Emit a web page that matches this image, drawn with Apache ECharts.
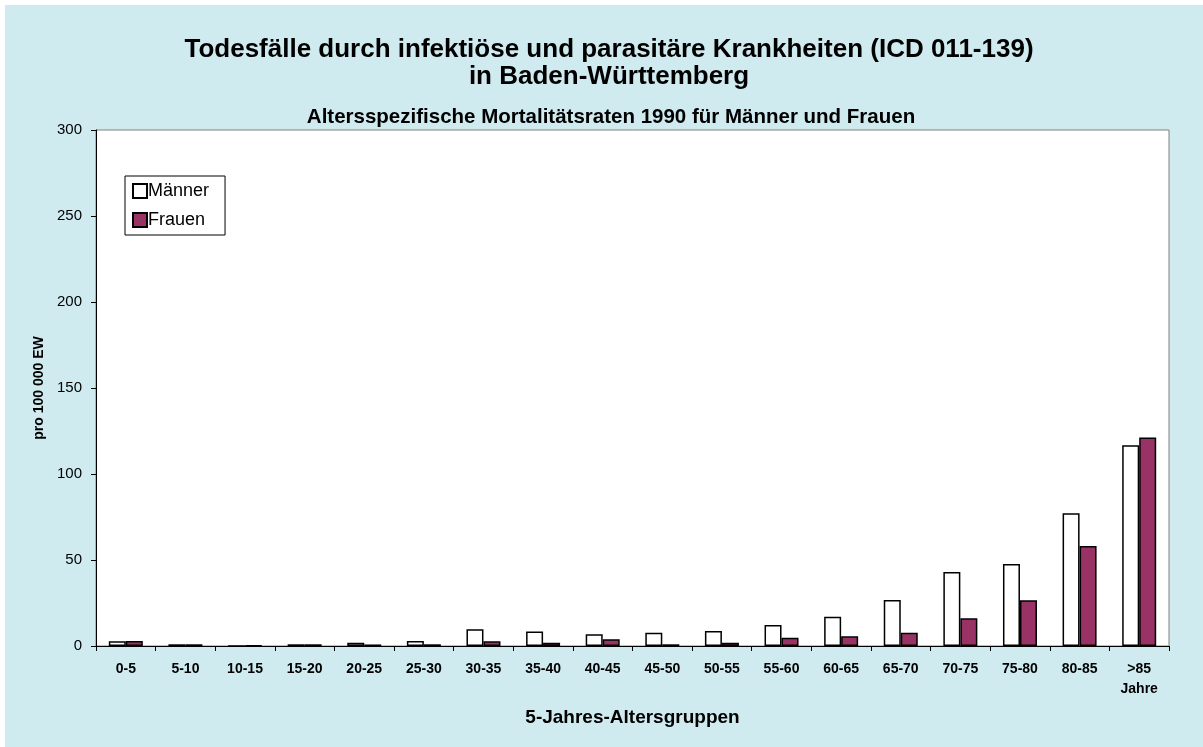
<!DOCTYPE html>
<html>
<head>
<meta charset="utf-8">
<script src="https://cdn.jsdelivr.net/npm/echarts@6/dist/echarts.min.js"></script>
<style>
html,body{margin:0;padding:0;background:#fff;}
#c{width:1203px;height:747px;}
</style>
</head>
<body>
<div id="c"></div>
<script>
const categories = ['0-5','5-10','10-15','15-20','20-25','25-30','30-35','35-40','40-45','45-50','50-55','55-60','60-65','65-70','70-75','75-80','80-85','>85'];
const maenner = [2.7, 1.0, 0.1, 1.0, 1.9, 2.9, 9.7, 8.5, 6.8, 7.7, 8.7, 12.2, 17.0, 26.7, 43.0, 47.7, 77.2, 116.7];
const frauen  = [2.9, 1.0, 0.3, 1.0, 0.9, 1.0, 2.7, 1.9, 3.9, 1.0, 1.9, 4.8, 5.6, 7.7, 16.1, 26.6, 58.2, 121.2];
const yTicks = [0, 50, 100, 150, 200, 250, 300];

const FONT = '"Liberation Sans", Arial, sans-serif';
const chart = echarts.init(document.getElementById('c'), null, {renderer: 'canvas'});
chart.setOption({
  animation: false,
  backgroundColor: '#ffffff',
  graphic: [{
    type: 'rect', z: -10, silent: true,
    shape: {x: 5, y: 5, width: 1198, height: 742},
    style: {fill: '#CFEBF0'}
  }],
  title: [{
    text: 'Todesfälle durch infektiöse und parasitäre Krankheiten (ICD 011-139)\nin Baden-Württemberg',
    left: 604, top: 31, textAlign: 'center',
    textStyle: {fontFamily: FONT, fontSize: 26, fontWeight: 'bold', color: '#000', lineHeight: 27}
  }, {
    text: 'Altersspezifische Mortalitätsraten 1990 für Männer und Frauen',
    left: 606, top: 102, textAlign: 'center',
    textStyle: {fontFamily: FONT, fontSize: 20.5, fontWeight: 'bold', color: '#000', lineHeight: 21}
  }],
  legend: {
    left: 125, top: 176,
    orient: 'vertical',
    itemWidth: 14, itemHeight: 14, itemGap: 11,
    icon: 'rect',
    padding: [6, 16, 6, 7],
    backgroundColor: '#fff',
    borderColor: '#000', borderWidth: 1, borderRadius: 0,
    textStyle: {fontFamily: FONT, fontSize: 18, lineHeight: 18, color: '#000', padding: [0, 0, 0, -4]},
    data: ['Männer', 'Frauen']
  },
  grid: {
    left: 96, right: 34, top: 130, bottom: 101,
    show: true, backgroundColor: '#fff', borderColor: '#808080', borderWidth: 1
  },
  xAxis: {
    type: 'category',
    data: categories,
    name: '5-Jahres-Altersgruppen',
    nameLocation: 'middle',
    nameGap: 62,
    nameTextStyle: {fontFamily: FONT, fontSize: 19, fontWeight: 'bold', color: '#000'},
    axisLine: {lineStyle: {color: '#000', width: 1}},
    axisTick: {show: true, length: 5, lineStyle: {color: '#000'}},
    axisLabel: {
      fontFamily: FONT, fontSize: 14, fontWeight: 'bold', color: '#000', margin: 13, lineHeight: 20,
      formatter: function (v) { return v === '>85' ? '>85\nJahre' : v; }
    }
  },
  yAxis: {
    type: 'value',
    min: 0, max: 300, interval: 50,
    name: 'pro 100 000 EW',
    nameLocation: 'middle',
    nameGap: 48,
    nameTextStyle: {fontFamily: FONT, fontSize: 14, fontWeight: 'bold', color: '#000'},
    axisLine: {show: true, lineStyle: {color: '#000', width: 1}},
    axisTick: {show: true, length: 5, lineStyle: {color: '#000'}},
    splitLine: {show: false},
    axisLabel: {
      fontFamily: FONT, fontSize: 15, color: '#000', margin: 14,
      customValues: yTicks
    }
  },
  series: [{
    name: 'Männer', type: 'bar', data: maenner,
    barWidth: 17, barGap: '0%',
    itemStyle: {color: '#ffffff', borderColor: '#000', borderWidth: 1.5}
  }, {
    name: 'Frauen', type: 'bar', data: frauen,
    barWidth: 17, barGap: '0%',
    itemStyle: {color: '#993366', borderColor: '#000', borderWidth: 1.5}
  }]
});
</script>
</body>
</html>
